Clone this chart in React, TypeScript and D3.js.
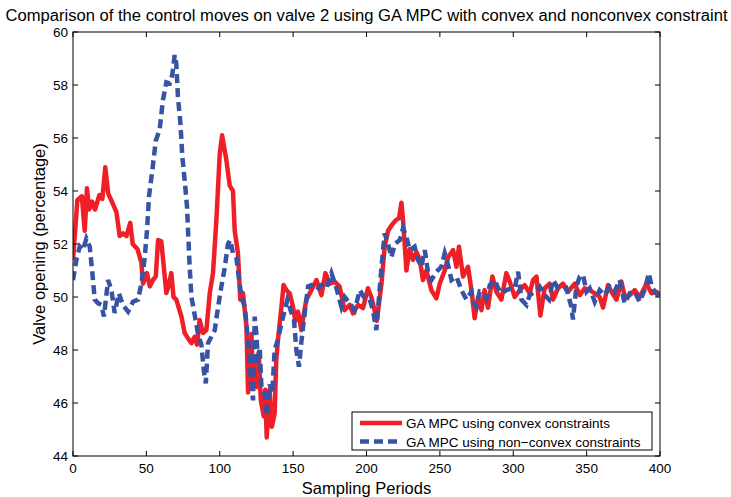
import React from 'react';
import * as d3 from 'd3';

// axis ticks
const xTicks = [0, 50, 100, 150, 200, 250, 300, 350, 400];
const yTicks = [44, 46, 48, 50, 52, 54, 56, 58, 60];

// GA MPC using convex constraints (sampling period, valve opening %)
const convexT = [0, 3, 6, 8, 9.5, 11, 13, 15, 18, 20, 22, 24, 26, 29.6, 31.8, 34, 36.4, 39, 40.7, 44, 46.6, 47.7, 50.4, 52.3, 54.5, 56.4, 58, 60.2, 61.4, 63.6, 65, 67, 68.5, 70.4, 73.9, 76.1, 78.4, 80.7, 82.9, 84.5, 86.3, 88.6, 90.9, 93.2, 95.4, 97.7, 100, 101.6, 104.5, 106.8, 109, 110.2, 112.4, 114, 115.8, 118.2, 119.3, 121.6, 122.7, 124, 125.5, 126.5, 128, 130, 131, 132, 134, 135.5, 137.4, 138.5, 139.7, 142, 143.5, 145.4, 147.7, 150, 151.5, 153.3, 155.6, 157, 159, 162.5, 165.9, 169.3, 172, 175, 178.3, 181.7, 185, 188.6, 190.8, 194.2, 197.6, 201, 203.3, 205.5, 207, 210.2, 212.4, 214.7, 217, 220, 222.2, 223.8, 224.9, 227.2, 229.4, 231.7, 234, 236.3, 238.5, 240.8, 244.2, 247.6, 249.9, 253.3, 255.6, 259, 261.3, 263, 265.8, 269.2, 271.5, 273.7, 276, 278.3, 280.5, 282.8, 285.8, 288.5, 291.9, 295.3, 297.6, 301, 304.4, 307.8, 311.2, 313.5, 315.8, 318.5, 321.4, 324.8, 327.1, 330.5, 333.9, 337.3, 341.9, 345.3, 348.7, 352.1, 355.5, 358.9, 361.2, 364.6, 366.9, 370.3, 373.7, 376, 379.4, 382.8, 386.2, 390.8, 394.2, 397.6, 400];
const convexV = [51.4, 53.66, 53.8, 52.5, 54.1, 53.3, 53.6, 53.3, 53.85, 53.7, 54.9, 53.9, 53.66, 53.2, 52.3, 52.4, 52.3, 52.8, 52.0, 51.8, 51.3, 50.5, 50.9, 50.4, 50.64, 50.77, 52.15, 52.1, 51.4, 50.15, 50.4, 50.9, 50.0, 49.9, 49.26, 48.64, 48.44, 48.26, 48.5, 48.2, 49.13, 48.64, 48.75, 50.15, 50.9, 52.9, 55.4, 56.1, 55.17, 54.2, 54.0, 52.5, 51.66, 49.9, 50.15, 48.9, 46.4, 48.6, 46.6, 47.6, 46.6, 47.9, 46.1, 45.5, 46.5, 44.7, 46.5, 45.1, 45.6, 47.6, 48.4, 49.6, 50.45, 50.26, 50.14, 49.6, 49.1, 49.45, 48.75, 49.26, 49.9, 50.26, 50.64, 50.07, 50.9, 50.5, 50.58, 50.39, 49.5, 49.7, 49.38, 49.7, 49.58, 50.33, 50.0, 49.5, 49.1, 50.5, 51.9, 52.5, 52.7, 52.9, 52.97, 53.56, 52.9, 51.0, 51.8, 51.4, 51.7, 51.4, 50.64, 51.0, 50.26, 49.95, 50.5, 51.0, 51.5, 51.77, 51.14, 51.9, 50.77, 51.14, 50.26, 49.2, 50.0, 49.5, 50.26, 49.6, 50.77, 50.2, 49.9, 50.9, 50.58, 50.0, 50.26, 50.45, 50.14, 50.64, 50.77, 49.3, 50.33, 50.5, 49.9, 50.33, 50.5, 50.2, 50.5, 50.07, 50.33, 50.26, 50.14, 50.0, 49.6, 50.45, 50.2, 49.9, 50.58, 50.0, 50.07, 50.26, 50.0, 50.5, 50.14, 50.2, 50.07];

// GA MPC using non-convex constraints
const nonconvexT = [0, 2.3, 4.6, 6.8, 9.1, 11.4, 13.2, 14.8, 17, 19.3, 21.1, 23.9, 26.2, 28.4, 31.3, 34, 37.5, 40.9, 44.3, 46.6, 48.9, 50.4, 51.8, 54.1, 56.4, 59, 61.3, 63.6, 65.9, 67.7, 69.3, 70.4, 71.5, 73.2, 74.5, 76.1, 77.7, 78.4, 79.5, 80.7, 83, 85.2, 87.5, 89.2, 90.5, 92, 94.3, 96.6, 98.8, 101.1, 103.4, 105.6, 107.2, 109, 111.3, 112.9, 114.8, 117, 118.2, 120, 121.6, 122.7, 123.8, 125, 126, 127.2, 128.4, 130.6, 132.2, 134, 135.8, 137.4, 139.7, 142, 144.3, 146.1, 148.3, 150.6, 152.2, 154, 155.6, 157.9, 160.2, 162.5, 165.9, 169.3, 172.7, 176.1, 179.5, 182.9, 185.1, 188.6, 192, 195.4, 198.8, 202.2, 204.4, 206.7, 210.2, 212.4, 214.7, 217, 219.3, 222.7, 224.9, 227.2, 229.4, 232.8, 235.1, 237.4, 239.7, 242, 244.2, 247.6, 251, 253.3, 255.6, 257.9, 261.3, 264.7, 268.1, 271.5, 272.6, 274.9, 277.1, 279.4, 281.7, 284, 287.4, 289.7, 291.9, 295.4, 298.8, 301, 303.3, 305.6, 309, 311.2, 314.6, 318, 321.4, 324.4, 327.1, 330.5, 333.9, 336.2, 339.6, 340.7, 343, 345.3, 347.6, 349.9, 352.1, 355.5, 358.9, 362.3, 365.7, 369.1, 372.5, 375.9, 379.3, 382.7, 386.1, 389.5, 392.4, 394.1, 396.4, 398.6, 400];
const nonconvexV = [50.64, 51.4, 51.9, 51.77, 52.2, 51.9, 50.9, 49.9, 49.77, 49.7, 49.26, 50.64, 50.26, 49.4, 50.14, 49.7, 49.45, 49.82, 49.9, 50.5, 51.5, 52.5, 53.8, 54.8, 55.9, 56.3, 57.43, 58.1, 58.06, 58.4, 59.13, 58.8, 57.56, 56.55, 55.3, 54.4, 53.4, 52.5, 51.14, 50.0, 49.3, 48.6, 48.2, 47.2, 46.74, 48.26, 48.5, 48.75, 49.6, 50.4, 51.1, 52.0, 52.15, 51.65, 51.5, 50.77, 50.0, 49.63, 49.0, 47.9, 46.6, 46.1, 49.26, 48.6, 47.5, 48.1, 46.6, 46.37, 45.5, 46.7, 46.37, 48.0, 48.4, 49.0, 49.5, 49.9, 49.5, 49.13, 48.0, 47.37, 48.3, 49.4, 50.4, 50.45, 50.26, 50.45, 50.33, 50.9, 50.33, 49.63, 50.0, 49.76, 49.5, 50.26, 49.95, 49.9, 49.5, 48.75, 51.14, 52.4, 52.0, 51.5, 52.0, 52.15, 52.6, 52.27, 51.77, 51.9, 51.4, 51.14, 51.77, 50.9, 50.64, 50.95, 51.14, 51.65, 51.2, 50.64, 50.77, 50.26, 49.9, 50.2, 49.82, 49.63, 50.2, 50.14, 49.95, 50.45, 50.64, 50.33, 50.14, 50.26, 50.33, 50.33, 50.95, 49.9, 49.7, 50.07, 50.2, 50.39, 50.07, 49.9, 50.64, 50.33, 50.26, 50.33, 49.63, 49.15, 50.39, 50.77, 50.83, 50.2, 50.33, 49.82, 50.26, 50.07, 50.39, 50.2, 50.64, 49.76, 50.14, 50.2, 49.82, 50.26, 50.9, 50.45, 50.2, 50.07, 50.0];

const width = 731, height = 497;
const margin = { left: 73, right: 71, top: 32, bottom: 41 };
const font = '"Liberation Sans", Arial, sans-serif';

export default function App() {
  const x = d3.scaleLinear().domain([0, 400]).range([margin.left, width - margin.right]);
  const y = d3.scaleLinear().domain([44, 60]).range([height - margin.bottom, margin.top]);
  const [x0, x1] = x.range();
  const [y0, y1] = y.range();

  const line = d3.line<[number, number]>()
    .x(d => x(d[0]))
    .y(d => y(d[1]));

  const convex = line(convexT.map((t, i) => [t, convexV[i]] as [number, number])) || '';
  const nonconvex = line(nonconvexT.map((t, i) => [t, nonconvexV[i]] as [number, number])) || '';

  const red = '#ee1f26';
  const blue = '#3852a4';
  const tk = 5;

  return (
    <svg width={width} height={height} style={{ position: 'absolute', left: 0, top: 0, background: '#fff' }}
      fontFamily={font}>
      <rect x={0} y={0} width={width} height={height} fill="#fff" />
      <text x={(x0 + x1) / 2} y={21} textAnchor="middle" fontSize={16} textLength={722}
        lengthAdjust="spacingAndGlyphs">
        Comparison of the control moves on valve 2 using GA MPC with convex and nonconvex constraint
      </text>

      <defs>
        <clipPath id="plot">
          <rect x={x0} y={y1} width={x1 - x0} height={y0 - y1} />
        </clipPath>
      </defs>

      <g clipPath="url(#plot)">
        <path d={convex} fill="none" stroke={red} strokeWidth={4.5} strokeLinejoin="round" />
        <path d={nonconvex} fill="none" stroke={blue} strokeWidth={4.5} strokeDasharray="9,5" />
      </g>

      {/* frame */}
      <rect x={x0} y={y1} width={x1 - x0} height={y0 - y1} fill="none" stroke="#000" strokeWidth={1} />

      {xTicks.map(t => (
        <g key={'x' + t}>
          <line x1={x(t)} x2={x(t)} y1={y0} y2={y0 - tk} stroke="#000" />
          <line x1={x(t)} x2={x(t)} y1={y1} y2={y1 + tk} stroke="#000" />
          <text x={x(t)} y={y0 + 17} textAnchor="middle" fontSize={13.5}>{t}</text>
        </g>
      ))}
      {yTicks.map(v => (
        <g key={'y' + v}>
          <line x1={x0} x2={x0 + tk} y1={y(v)} y2={y(v)} stroke="#000" />
          <line x1={x1} x2={x1 - tk} y1={y(v)} y2={y(v)} stroke="#000" />
          <text x={x0 - 5} y={y(v) + 5} textAnchor="end" fontSize={13.5}>{v}</text>
        </g>
      ))}

      <text x={(x0 + x1) / 2} y={494} textAnchor="middle" fontSize={16.5}>Sampling Periods</text>
      <text transform={`translate(45,${(y0 + y1) / 2}) rotate(-90)`} textAnchor="middle" fontSize={16.5}>
        Valve opening (percentage)
      </text>

      {/* legend */}
      <g>
        <rect x={352} y={412} width={300} height={38} fill="#fff" stroke="#000" strokeWidth={1} />
        <line x1={360} x2={402} y1={423} y2={423} stroke={red} strokeWidth={4.5} />
        <line x1={360} x2={402} y1={441.5} y2={441.5} stroke={blue} strokeWidth={4.5} strokeDasharray="9,5" />
        <text x={406} y={428} fontSize={13.5}>GA MPC using convex constraints</text>
        <text x={406} y={446.5} fontSize={13.5}>GA MPC using non−convex constraints</text>
      </g>
    </svg>
  );
}
